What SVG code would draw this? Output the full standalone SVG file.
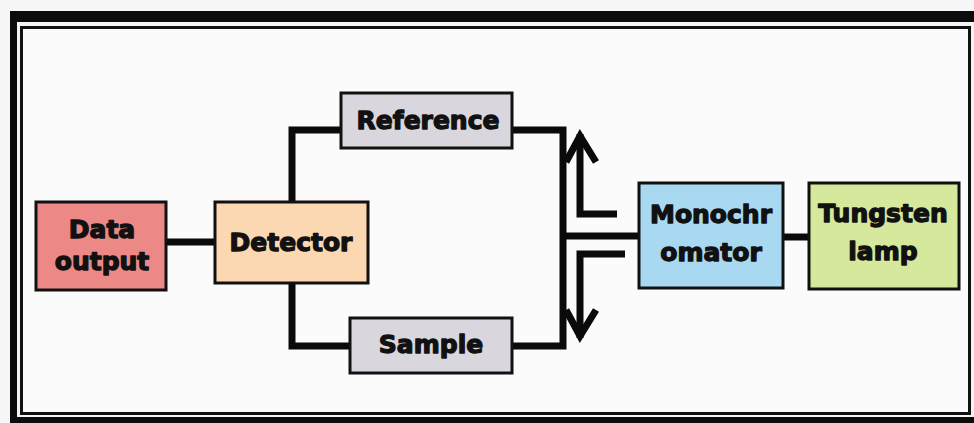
<svg xmlns="http://www.w3.org/2000/svg" width="974" height="423" viewBox="0 0 974 423">
<style>
.box{stroke:#111;stroke-width:3}
.lbl{font-family:"DejaVu Sans","Liberation Sans",sans-serif;font-weight:bold;font-size:25px;fill:#111;stroke:#111;stroke-width:1.3;stroke-linejoin:round;text-anchor:middle}
.wire{fill:none;stroke:#0a0a0a;stroke-width:7;stroke-linejoin:miter}
</style>
<rect x="0" y="0" width="974" height="423" fill="#f7f7f7"/>
<rect x="10" y="11" width="970" height="420" fill="#0c0c0c"/>
<rect x="17" y="22" width="960" height="395" fill="#f4f4f4"/>
<rect x="21.5" y="27.5" width="948" height="386" fill="#fbfbfc" stroke="#111" stroke-width="3"/>
<g id="connectors">
<path class="wire" d="M166 242H215"/>
<path class="wire" d="M341 130H292V202"/>
<path class="wire" d="M292 283V346H350"/>
<path class="wire" d="M512 130H563V346H512"/>
<path class="wire" d="M563 236H639"/>
<path class="wire" d="M783 237H809"/>
<path class="wire" d="M617 214H580V134"/>
<path class="wire" d="M566 162L580 136L596 162"/>
<path class="wire" d="M625 254H580V338"/>
<path class="wire" d="M566 310L580 336L596 310"/>
</g>
<g id="data-output">
<rect class="box" x="36" y="202" width="130" height="88" fill="#ec8886"/>
<text class="lbl" x="102" y="238">Data</text>
<text class="lbl" x="102" y="270">output</text>
</g>
<g id="detector">
<rect class="box" x="215" y="202" width="153" height="81" fill="#fcd8b2"/>
<text class="lbl" x="291" y="251">Detector</text>
</g>
<g id="reference">
<rect class="box" x="341" y="93" width="171" height="55" fill="#d9d7dd"/>
<text class="lbl" x="428" y="129">Reference</text>
</g>
<g id="sample">
<rect class="box" x="350" y="318" width="162" height="55" fill="#d9d7dd"/>
<text class="lbl" x="431" y="353">Sample</text>
</g>
<g id="monochromator">
<rect class="box" x="639" y="183" width="144" height="105" fill="#a9d9f1"/>
<text class="lbl" x="711" y="223">Monochr</text>
<text class="lbl" x="711" y="261">omator</text>
</g>
<g id="tungsten-lamp">
<rect class="box" x="809" y="183" width="150" height="106" fill="#d5e89b"/>
<text class="lbl" x="883" y="222">Tungsten</text>
<text class="lbl" x="883" y="260">lamp</text>
</g>
</svg>
